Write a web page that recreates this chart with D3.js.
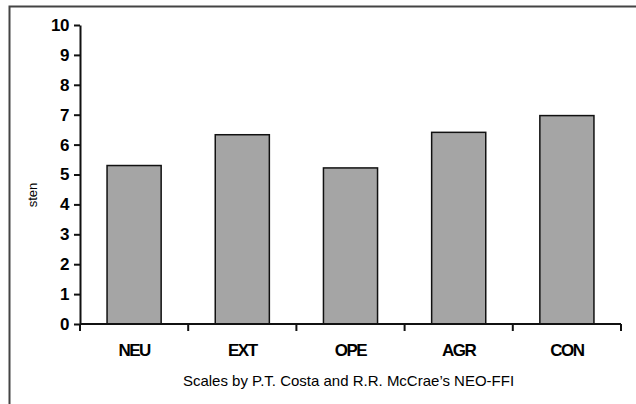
<!DOCTYPE html>
<html>
<head>
<meta charset="utf-8">
<script src="https://cdn.jsdelivr.net/npm/d3@7"></script>
<style>
  body { margin: 0; background: #fff; }
  svg { display: block; font-family: "Liberation Sans", Arial, sans-serif; }
</style>
</head>
<body>
<div id="chart"></div>
<script>
var categories = ["NEU", "EXT", "OPE", "AGR", "CON"];
var stenValues = [5.3, 6.33, 5.22, 6.41, 6.97];
var yTicks = [0, 1, 2, 3, 4, 5, 6, 7, 8, 9, 10];
var xTitle = "Scales by P.T. Costa and R.R. McCrae\u2019s NEO-FFI";
var yTitle = "sten";

var width = 636, height = 404;
var plotLeft = 80, plotRight = 621, plotTop = 25, plotBottom = 324;

var svg = d3.select("#chart").append("svg")
  .attr("width", width)
  .attr("height", height);

// outer frame (only top and left edges show in the picture)
svg.append("path")
  .attr("d", "M9.5," + height + "V6.5H" + width)
  .attr("fill", "none")
  .attr("stroke", "#444")
  .attr("stroke-width", 2);

var x = d3.scaleBand().domain(categories).range([plotLeft, plotRight]).paddingInner(0.5).paddingOuter(0.25);
var y = d3.scaleLinear().domain([0, 10]).range([plotBottom, plotTop]);

svg.selectAll("rect.bar")
  .data(stenValues)
  .enter().append("rect")
  .attr("class", "bar")
  .attr("x", function(d, i) { return x(categories[i]); })
  .attr("y", function(d) { return y(d); })
  .attr("width", x.bandwidth())
  .attr("height", function(d) { return plotBottom - y(d); })
  .attr("fill", "#a5a5a5")
  .attr("stroke", "#111")
  .attr("stroke-width", 1.5);

// y axis
var yAxis = svg.append("g")
  .attr("transform", "translate(" + plotLeft + ",0)")
  .call(d3.axisLeft(y).tickValues(yTicks).tickSize(6).tickSizeOuter(0).tickFormat(d3.format("d")));
yAxis.select(".domain").attr("stroke", "#111").attr("stroke-width", 2);
yAxis.selectAll(".tick line").attr("stroke", "#111").attr("stroke-width", 2);
yAxis.selectAll(".tick text")
  .attr("x", -11)
  .attr("fill", "#000")
  .style("font-size", "17px")
  .style("font-weight", "bold")
  .style("letter-spacing", "-0.5px");

// x axis: ticks sit on category boundaries
var boundaries = d3.range(categories.length + 1).map(function(i) {
  return plotLeft + i * (plotRight - plotLeft) / categories.length;
});
var xAxis = svg.append("g").attr("transform", "translate(0," + plotBottom + ")");
xAxis.append("line")
  .attr("x1", plotLeft).attr("x2", plotRight)
  .attr("stroke", "#111").attr("stroke-width", 2);
xAxis.selectAll("line.tk")
  .data(boundaries)
  .enter().append("line")
  .attr("class", "tk")
  .attr("x1", function(d) { return d; }).attr("x2", function(d) { return d; })
  .attr("y1", 0).attr("y2", 7)
  .attr("stroke", "#111").attr("stroke-width", 2);
xAxis.selectAll("text.cat")
  .data(categories)
  .enter().append("text")
  .attr("class", "cat")
  .attr("x", function(d) { return x(d) + x.bandwidth() / 2; })
  .attr("y", 32)
  .attr("text-anchor", "middle")
  .style("font-size", "17px")
  .style("font-weight", "bold")
  .style("letter-spacing", "-1.5px")
  .text(function(d) { return d; });

svg.append("text")
  .attr("x", (plotLeft + plotRight) / 2 - 2)
  .attr("y", 386)
  .attr("text-anchor", "middle")
  .style("font-size", "15px")
  .text(xTitle);

svg.append("text")
  .attr("transform", "translate(37,195) rotate(-90)")
  .attr("text-anchor", "middle")
  .style("font-size", "13px")
  .text(yTitle);
</script>
</body>
</html>
